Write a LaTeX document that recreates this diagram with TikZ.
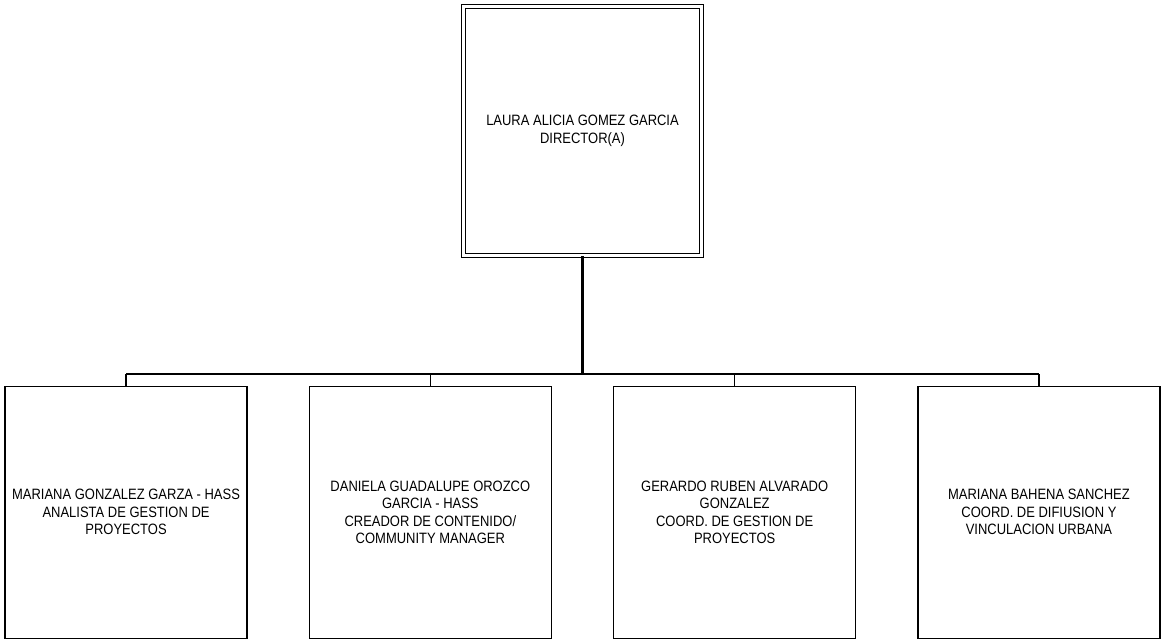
\documentclass[tikz,border=0pt]{standalone}
\usepackage{fontspec}
\setmainfont{Liberation Sans}[FakeStretch=0.865]
\usetikzlibrary{positioning}
\tikzset{
  person/.style={draw=black, line width=1.3pt, align=center, fill=white,
    minimum width=242pt, minimum height=252pt, inner sep=2pt,
    font=\fontsize{15}{17.5}\selectfont},
  head/.style={person, line width=1.4pt, double, double distance=2.4pt,
    minimum width=238pt, minimum height=249pt},
  link/.style={draw=black, line width=1.4pt},
  trunk/.style={draw=black, line width=2.6pt}
}

\begin{document}
\begin{tikzpicture}[x=1pt, y=-1pt, node distance=61pt]
  \useasboundingbox (0,0) rectangle (1162,640);

  \node[head] (dir) at (582.5,131) {LAURA ALICIA GOMEZ GARCIA\\DIRECTOR(A)};

  \node[person, anchor=north west] (m1) at (4.4,385.6) {MARIANA GONZALEZ GARZA - HASS\\ANALISTA DE GESTION DE\\PROYECTOS};
  \node[person, right=of m1] (m2) {DANIELA GUADALUPE OROZCO\\GARCIA - HASS\\CREADOR DE CONTENIDO/\\COMMUNITY MANAGER};
  \node[person, right=of m2] (m3) {GERARDO RUBEN ALVARADO\\GONZALEZ\\COORD. DE GESTION DE\\PROYECTOS};
  \node[person, right=of m3] (m4) {MARIANA BAHENA SANCHEZ\\COORD. DE DIFIUSION Y\\VINCULACION URBANA};

  \coordinate (bus) at (582.5,374);

  \draw[trunk] (dir.south) -- (dir.south |- bus);
  \draw[link] (m1.north |- bus) -- (m4.north |- bus);
  \draw[link] (m1.north |- bus) -- (m1.north);
  \draw[link] (m2.north |- bus) -- (m2.north);
  \draw[link] (m3.north |- bus) -- (m3.north);
  \draw[link] (m4.north |- bus) -- (m4.north);
\end{tikzpicture}
\end{document}
